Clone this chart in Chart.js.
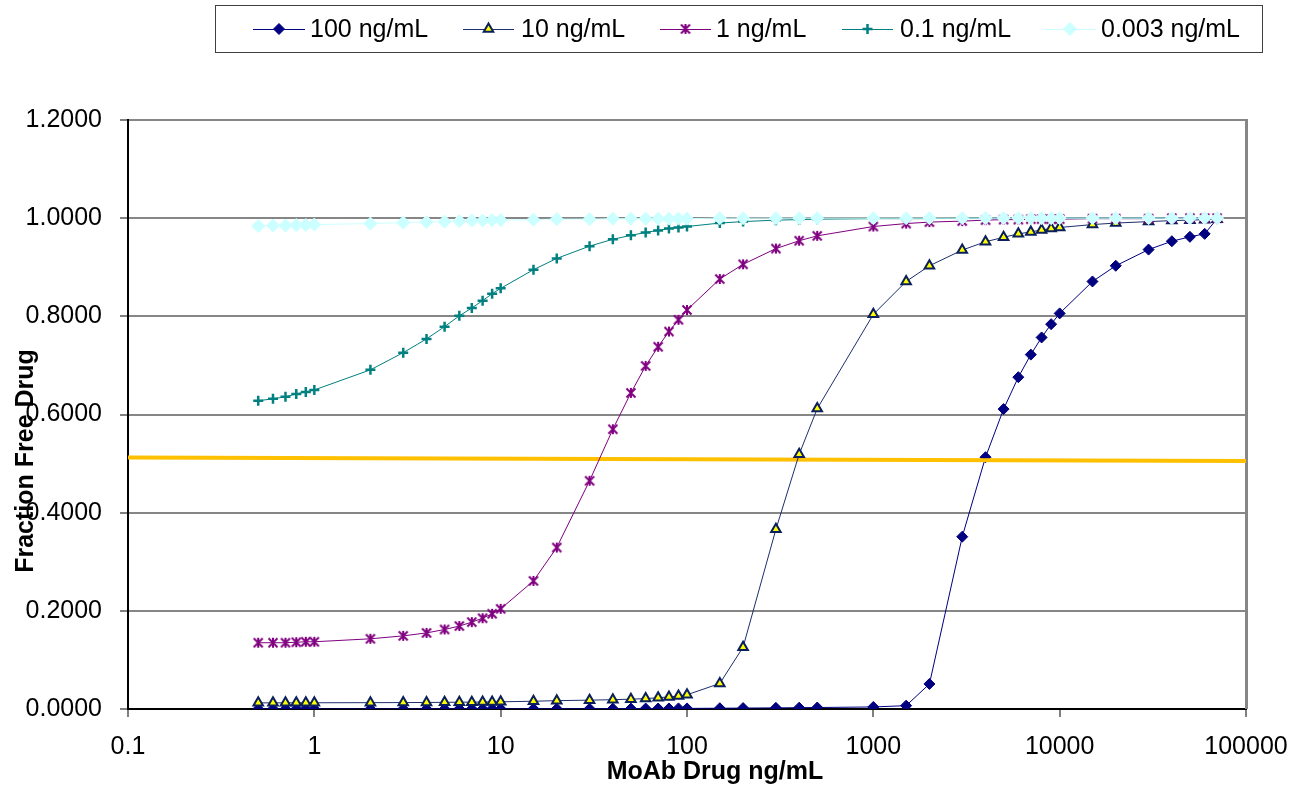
<!DOCTYPE html>
<html>
<head>
<meta charset="utf-8">
<script src="https://cdn.jsdelivr.net/npm/chart.js@4.4.1/dist/chart.umd.min.js"></script>
<style>
  html, body { margin: 0; padding: 0; background: #ffffff; }
  #wrap { width: 1294px; height: 787px; position: relative; }
</style>
</head>
<body>
<div id="wrap"><canvas id="chart" width="1294" height="787"></canvas></div>
<script>
// MoAb drug concentration (ng/mL), shared by every series
const concentrations = [
  0.5, 0.6, 0.7, 0.8, 0.9, 1,
  2, 3, 4, 5, 6, 7, 8, 9, 10,
  15, 20, 30, 40, 50, 60, 70, 80, 90, 100,
  150, 200, 300, 400, 500,
  1000, 1500,
  2000, 3000, 4000, 5000, 6000, 7000, 8000, 9000, 10000,
  15000, 20000, 30000, 40000, 50000, 60000, 70000
];

// Fraction of free drug for each target concentration
const free100 = [
  0.0001, 0.0001, 0.0001, 0.0001, 0.0001, 0.0001,
  0.0002, 0.0002, 0.0002, 0.0002, 0.0003, 0.0003, 0.0003, 0.0003, 0.0003,
  0.0004, 0.0005, 0.0006, 0.0007, 0.0008, 0.0009, 0.0010, 0.0011, 0.0012, 0.0012,
  0.0016, 0.0019, 0.0023, 0.0027, 0.0030,
  0.0042, 0.0068,
  0.051, 0.351, 0.513, 0.611, 0.676, 0.722, 0.757, 0.784, 0.806,
  0.871, 0.903, 0.936, 0.953, 0.962, 0.968, 0.999
];
const free10 = [
  0.0125, 0.0125, 0.0126, 0.0126, 0.0126, 0.0127,
  0.0129, 0.0131, 0.0133, 0.0136, 0.0138, 0.0140, 0.0142, 0.0145, 0.0147,
  0.0158, 0.0170, 0.0180, 0.0190, 0.0200, 0.0212, 0.0230, 0.0245, 0.0265, 0.0290,
  0.052, 0.126, 0.366, 0.519, 0.612,
  0.804, 0.871,
  0.903, 0.935, 0.952, 0.961, 0.968, 0.972, 0.976, 0.979, 0.981,
  0.987, 0.990, 0.993, 0.995, 0.996, 0.997, 0.998
];
const free1 = [
  0.135, 0.135, 0.135, 0.136, 0.137, 0.137,
  0.143, 0.149, 0.155, 0.162, 0.169, 0.177, 0.185, 0.194, 0.204,
  0.261, 0.329, 0.465, 0.570, 0.644, 0.699, 0.738, 0.769, 0.793, 0.813,
  0.876, 0.906, 0.938, 0.954, 0.964,
  0.983, 0.989,
  0.992, 0.994, 0.996, 0.997, 0.997, 0.998, 0.998, 0.998, 0.998,
  0.999, 0.999, 0.999, 1.000, 1.000, 1.000, 1.000
];
const free01 = [
  0.628, 0.632, 0.636, 0.642, 0.646, 0.650,
  0.691, 0.726, 0.754, 0.779, 0.801, 0.817, 0.832, 0.846, 0.857,
  0.895, 0.918, 0.943, 0.957, 0.965, 0.971, 0.975, 0.979, 0.981, 0.983,
  0.990, 0.993, 0.996, 0.997, 0.998,
  0.999, 0.999,
  0.999, 1.000, 1.000, 1.000, 1.000, 1.000, 1.000, 1.000, 1.000,
  1.000, 1.000, 1.000, 1.000, 1.000, 1.000, 1.000
];
const free0003 = [
  0.984, 0.985, 0.985, 0.986, 0.986, 0.987,
  0.989, 0.991, 0.992, 0.993, 0.994, 0.995, 0.995, 0.996, 0.996,
  0.997, 0.998, 0.998, 0.999, 0.999, 0.999, 0.999, 0.999, 0.999, 0.999,
  1.000, 1.000, 1.000, 1.000, 1.000,
  1.000, 1.000,
  1.000, 1.000, 1.000, 1.000, 1.000, 1.000, 1.000, 1.000, 1.000,
  1.000, 1.000, 1.000, 1.000, 1.000, 1.000, 1.000
];

const seriesNames = ['100 ng/mL', '10 ng/mL', '1 ng/mL', '0.1 ng/mL', '0.003 ng/mL'];

// 50% free-drug reference line (end points)
const halfLineX = [0.1, 100000];
const halfLineY = [0.5125, 0.5055];

// Axis ticks
const xTickValues = [0.1, 1, 10, 100, 1000, 10000, 100000];
const yMin = 0, yMax = 1.2, yStep = 0.2;

const FONT = "'Liberation Sans', Arial, Helvetica, sans-serif";

function pairs(ys) { return concentrations.map((x, i) => ({ x: x, y: ys[i] })); }

// Asterisk-style marker: X with a vertical stroke
function starMarker(color) {
  const c = document.createElement('canvas');
  c.width = 12; c.height = 12;
  const g = c.getContext('2d');
  g.strokeStyle = color;
  g.lineWidth = 2;
  g.lineCap = 'butt';
  g.beginPath();
  g.moveTo(1.5, 1.5); g.lineTo(10.5, 10.5);
  g.moveTo(10.5, 1.5); g.lineTo(1.5, 10.5);
  g.moveTo(6, 1); g.lineTo(6, 11);
  g.stroke();
  return c;
}

const datasets = [
  {
    label: seriesNames[0], data: pairs(free100), order: 5,
    borderColor: '#000080', borderWidth: 1,
    pointStyle: 'rectRot', pointRadius: 5.5,
    pointBackgroundColor: '#000080', pointBorderColor: '#000080', pointBorderWidth: 1
  },
  {
    label: '50%', data: halfLineX.map((x, i) => ({ x: x, y: halfLineY[i] })), order: 4,
    borderColor: '#FFC000', borderWidth: 4, pointRadius: 0, clip: false
  },
  {
    label: seriesNames[1], data: pairs(free10), order: 3,
    borderColor: '#1c2f6e', borderWidth: 1,
    pointStyle: 'triangle', pointRadius: 5.5,
    pointBackgroundColor: '#FFFF00', pointBorderColor: '#0a1f5c', pointBorderWidth: 2
  },
  {
    label: seriesNames[2], data: pairs(free1), order: 2,
    borderColor: '#800080', borderWidth: 1,
    pointStyle: starMarker('#800080'), pointRadius: 5,
    pointBackgroundColor: '#800080', pointBorderColor: '#800080'
  },
  {
    label: seriesNames[3], data: pairs(free01), order: 1,
    borderColor: '#008080', borderWidth: 1,
    pointStyle: 'cross', pointRadius: 5,
    pointBackgroundColor: '#008080', pointBorderColor: '#008080', pointBorderWidth: 2.5
  },
  {
    label: seriesNames[4], data: pairs(free0003), order: 0,
    borderColor: '#CCFFFF', borderWidth: 1,
    pointStyle: 'rectRot', pointRadius: 6.5,
    pointBackgroundColor: '#CCFFFF', pointBorderColor: '#CCFFFF', pointBorderWidth: 1
  }
];

// White page background
const backgroundPlugin = {
  id: 'pageBackground',
  beforeDraw(chart) {
    const ctx = chart.ctx;
    ctx.save();
    ctx.fillStyle = '#ffffff';
    ctx.fillRect(0, 0, chart.width, chart.height);
    ctx.restore();
  }
};

// Right edge of the plot frame
const framePlugin = {
  id: 'plotFrame',
  beforeDatasetsDraw(chart) {
    const { ctx, chartArea: a } = chart;
    ctx.save();
    ctx.strokeStyle = '#868686';
    ctx.lineWidth = 3;
    ctx.beginPath();
    ctx.moveTo(a.right + 0.5, a.top - 1);
    ctx.lineTo(a.right + 0.5, a.bottom);
    ctx.stroke();
    ctx.restore();
  }
};

// Axis titles and boxed legend
const textPlugin = {
  id: 'titlesAndLegend',
  afterDraw(chart) {
    const ctx = chart.ctx;
    ctx.save();
    ctx.fillStyle = '#000000';
    ctx.font = 'bold 25px ' + FONT;
    ctx.textAlign = 'center';
    ctx.textBaseline = 'middle';
    ctx.fillText('MoAb Drug ng/mL', 715, 772);
    ctx.save();
    ctx.translate(26, 461);
    ctx.rotate(-Math.PI / 2);
    ctx.fillText('Fraction Free Drug', 0, 0);
    ctx.restore();

    // legend box
    ctx.strokeStyle = '#404040';
    ctx.lineWidth = 1;
    ctx.strokeRect(215.5, 5.5, 1047, 47);

    const items = [
      { ds: 0, x1: 253, x2: 305, tx: 310 },
      { ds: 2, x1: 463, x2: 514, tx: 521 },
      { ds: 3, x1: 660, x2: 711, tx: 716 },
      { ds: 4, x1: 842, x2: 893, tx: 900 },
      { ds: 5, x1: 1044, x2: 1096, tx: 1101 }
    ];
    const ly = 29;
    ctx.font = '25px ' + FONT;
    ctx.textAlign = 'left';
    items.forEach(it => {
      const d = datasets[it.ds];
      ctx.strokeStyle = d.borderColor;
      ctx.lineWidth = d.borderWidth;
      ctx.beginPath();
      ctx.moveTo(it.x1, ly + 0.5);
      ctx.lineTo(it.x2, ly + 0.5);
      ctx.stroke();
      ctx.fillStyle = d.pointBackgroundColor;
      ctx.strokeStyle = d.pointBorderColor;
      ctx.lineWidth = d.pointBorderWidth || 1;
      Chart.helpers.drawPoint(ctx, {
        pointStyle: d.pointStyle, radius: d.pointRadius, rotation: 0, borderWidth: d.pointBorderWidth || 1
      }, (it.x1 + it.x2) / 2, ly);
      ctx.fillStyle = '#000000';
      ctx.fillText(d.label, it.tx, ly + 1);
    });
    ctx.restore();
  }
};

new Chart(document.getElementById('chart'), {
  type: 'line',
  data: { datasets: datasets },
  options: {
    responsive: false,
    animation: false,
    events: [],
    layout: { padding: { top: 120, right: 48, left: 0, bottom: 0 } },
    elements: { line: { tension: 0 } },
    plugins: { legend: { display: false }, tooltip: { enabled: false }, title: { display: false } },
    scales: {
      x: {
        type: 'logarithmic',
        min: 0.1, max: 100000,
        afterFit(scale) {
          scale.height = 78;
          scale.paddingLeft = 0;
          scale.paddingRight = 0;
        },
        afterBuildTicks(scale) { scale.ticks = xTickValues.map(v => ({ value: v })); },
        ticks: {
          autoSkip: false, maxRotation: 0, padding: 15,
          color: '#000000', font: { family: FONT, size: 25 },
          callback: (v) => String(v)
        },
        grid: { display: true, drawOnChartArea: false, drawTicks: true, tickLength: 8, tickColor: '#808080', lineWidth: 2 },
        border: { display: true, color: '#000000', width: 2 }
      },
      y: {
        type: 'linear',
        min: yMin, max: yMax,
        afterFit(scale) { scale.width = 128; },
        ticks: {
          stepSize: yStep, padding: 18,
          color: '#000000', font: { family: FONT, size: 25 },
          callback: (v) => Number(v).toFixed(4)
        },
        grid: { color: '#868686', lineWidth: 2, tickLength: 8, tickColor: '#808080' },
        border: { display: true, color: '#000000', width: 2 }
      }
    }
  },
  plugins: [backgroundPlugin, framePlugin, textPlugin]
});
</script>
</body>
</html>
